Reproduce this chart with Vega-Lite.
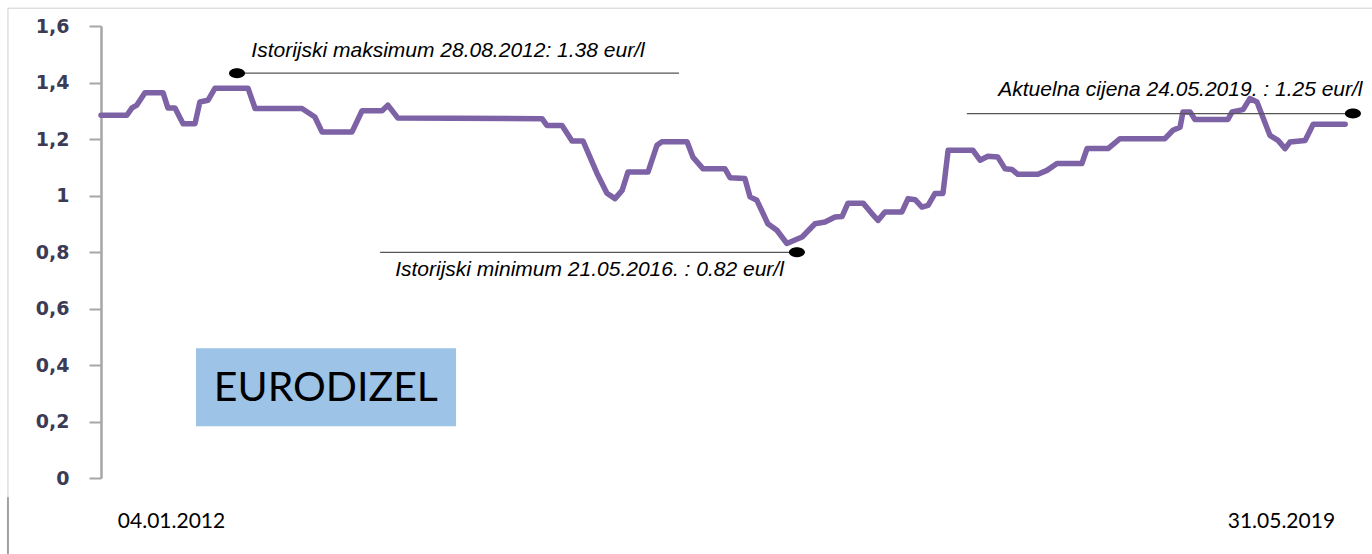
{
  "$schema": "https://vega.github.io/schema/vega-lite/v6.json",
  "width": 1260,
  "height": 452,
  "autosize": {"type": "none"},
  "padding": {"left": 101, "top": 26, "right": 11, "bottom": 76},
  "background": "white",
  "config": {"view": {"stroke": null}},
  "datasets": {
    "price": [
      {"week": 0, "eur": 1.284}, {"week": 8, "eur": 1.284}, {"week": 9.6, "eur": 1.31}, {"week": 11.1, "eur": 1.32},
      {"week": 13.6, "eur": 1.364}, {"week": 19.2, "eur": 1.364}, {"week": 20.7, "eur": 1.31}, {"week": 22.9, "eur": 1.31},
      {"week": 25.4, "eur": 1.254}, {"week": 29.1, "eur": 1.254}, {"week": 30.6, "eur": 1.331}, {"week": 33.1, "eur": 1.337},
      {"week": 35.3, "eur": 1.38}, {"week": 45.5, "eur": 1.38}, {"week": 47.7, "eur": 1.308}, {"week": 62.2, "eur": 1.308},
      {"week": 66.2, "eur": 1.278}, {"week": 68.4, "eur": 1.225}, {"week": 77.7, "eur": 1.225}, {"week": 80.8, "eur": 1.3},
      {"week": 87.0, "eur": 1.3}, {"week": 88.8, "eur": 1.32}, {"week": 91.9, "eur": 1.274}, {"week": 136.5, "eur": 1.272},
      {"week": 138.0, "eur": 1.248}, {"week": 142.7, "eur": 1.248}, {"week": 145.8, "eur": 1.193}, {"week": 149.2, "eur": 1.193},
      {"week": 153.5, "eur": 1.079}, {"week": 156.6, "eur": 1.008}, {"week": 159.1, "eur": 0.989}, {"week": 161.3, "eur": 1.018},
      {"week": 163.1, "eur": 1.083}, {"week": 169.3, "eur": 1.083}, {"week": 172.1, "eur": 1.178}, {"week": 173.6, "eur": 1.19},
      {"week": 181.4, "eur": 1.19}, {"week": 183.2, "eur": 1.136}, {"week": 186.3, "eur": 1.095}, {"week": 193.1, "eur": 1.095},
      {"week": 194.7, "eur": 1.063}, {"week": 199.3, "eur": 1.06}, {"week": 200.9, "eur": 0.995}, {"week": 203.0, "eur": 0.983},
      {"week": 206.4, "eur": 0.9}, {"week": 209.2, "eur": 0.877}, {"week": 212.3, "eur": 0.83}, {"week": 217.0, "eur": 0.853},
      {"week": 221.0, "eur": 0.9}, {"week": 224.1, "eur": 0.906}, {"week": 227.2, "eur": 0.924}, {"week": 229.4, "eur": 0.926},
      {"week": 231.2, "eur": 0.973}, {"week": 235.9, "eur": 0.973}, {"week": 238.6, "eur": 0.936}, {"week": 240.5, "eur": 0.912},
      {"week": 242.7, "eur": 0.942}, {"week": 247.9, "eur": 0.942}, {"week": 249.8, "eur": 0.989}, {"week": 252.0, "eur": 0.985},
      {"week": 254.1, "eur": 0.959}, {"week": 256.0, "eur": 0.965}, {"week": 258.1, "eur": 1.007}, {"week": 260.6, "eur": 1.007},
      {"week": 262.2, "eur": 1.16}, {"week": 269.9, "eur": 1.16}, {"week": 272.1, "eur": 1.125}, {"week": 274.5, "eur": 1.139},
      {"week": 277.6, "eur": 1.136}, {"week": 279.8, "eur": 1.095}, {"week": 282.0, "eur": 1.092}, {"week": 283.8, "eur": 1.075},
      {"week": 290.0, "eur": 1.075}, {"week": 292.8, "eur": 1.089}, {"week": 295.9, "eur": 1.113}, {"week": 303.6, "eur": 1.113},
      {"week": 305.2, "eur": 1.166}, {"week": 311.7, "eur": 1.166}, {"week": 315.4, "eur": 1.201}, {"week": 329.3, "eur": 1.201},
      {"week": 331.8, "eur": 1.231}, {"week": 334.0, "eur": 1.242}, {"week": 334.9, "eur": 1.296}, {"week": 337.1, "eur": 1.296},
      {"week": 338.6, "eur": 1.269}, {"week": 348.8, "eur": 1.269}, {"week": 350.1, "eur": 1.296}, {"week": 353.5, "eur": 1.304},
      {"week": 355.6, "eur": 1.343}, {"week": 357.8, "eur": 1.331}, {"week": 361.8, "eur": 1.213}, {"week": 364.3, "eur": 1.195},
      {"week": 366.5, "eur": 1.166}, {"week": 368.0, "eur": 1.189}, {"week": 372.7, "eur": 1.195}, {"week": 375.2, "eur": 1.252},
      {"week": 385.1, "eur": 1.252}
    ],
    "notes": [
      {"week": 42.1, "week2": 178.9, "eur": 1.433, "labelWeek": 107.4, "labelEur": 1.513, "label": "Istorijski maksimum 28.08.2012: 1.38 eur/l"},
      {"week": 215.4, "week2": 86.4, "eur": 0.799, "labelWeek": 151.2, "labelEur": 0.735, "label": "Istorijski minimum 21.05.2016. : 0.82 eur/l"},
      {"week": 387.5, "week2": 268.0, "eur": 1.29, "labelWeek": 334.1, "labelEur": 1.373, "label": "Aktuelna cijena 24.05.2019. : 1.25 eur/l"}
    ],
    "box": [
      {"week": 29.4, "week2": 109.9, "eur": 0.459, "eur2": 0.183, "midWeek": 69.6, "midEur": 0.314, "title": "EURODIZEL"}
    ],
    "frame": [
      {"week": -28.8, "week2": 393.4, "eur": 1.663, "eur2": 1.663, "part": "border"},
      {"week": -28.8, "week2": -28.8, "eur": 1.663, "eur2": -0.068, "part": "border"},
      {"week": -28.8, "week2": -28.8, "eur": -0.068, "eur2": -0.27, "part": "stub"}
    ]
  },
  "layer": [
    {
      "data": {"name": "frame"},
      "mark": {"type": "rule", "clip": false},
      "encoding": {
        "x": {
          "field": "week", "type": "quantitative", "scale": {"domain": [0, 390], "nice": false, "zero": false},
          "axis": {
            "values": [21.67, 365.2],
            "labelExpr": "datum.value < 100 ? '04.01.2012' : '31.05.2019'",
            "domain": false, "ticks": false, "grid": false, "title": null,
            "labelFont": "Lato", "labelFontSize": 21, "labelColor": "#000000",
            "labelBaseline": "middle", "labelPadding": 43, "labelAlign": "center", "labelFlush": false, "labelOverlap": false
          }
        },
        "x2": {"field": "week2"},
        "y": {
          "field": "eur", "type": "quantitative", "scale": {"domain": [0, 1.6], "nice": false},
          "axis": {
            "values": [0, 0.2, 0.4, 0.6, 0.8, 1, 1.2, 1.4, 1.6],
            "labelExpr": "replace(format(datum.value, '~g'), '.', ',')",
            "grid": false, "title": null,
            "domainColor": "#a6a6a6", "domainWidth": 2.5,
            "tickColor": "#a6a6a6", "tickWidth": 2, "tickSize": 12,
            "labelFont": "DejaVu Sans", "labelFontWeight": "bold", "labelFontSize": 19, "labelColor": "#3b3b55",
            "labelPadding": 20, "labelFlush": false
          }
        },
        "y2": {"field": "eur2"},
        "color": {"field": "part", "type": "nominal", "scale": {"domain": ["border", "stub"], "range": ["#cfcfcf", "#a0a0a0"]}, "legend": null},
        "strokeWidth": {"field": "part", "type": "nominal", "scale": {"domain": ["border", "stub"], "range": [1, 2]}, "legend": null}
      }
    },
    {
      "data": {"name": "box"},
      "mark": {"type": "rect", "fill": "#9dc3e6", "clip": false},
      "encoding": {
        "x": {"field": "week", "type": "quantitative"},
        "x2": {"field": "week2"},
        "y": {"field": "eur", "type": "quantitative"},
        "y2": {"field": "eur2"}
      }
    },
    {
      "data": {"name": "box"},
      "mark": {"type": "text", "font": "Lato", "fontSize": 41, "color": "#000000", "align": "center", "baseline": "middle"},
      "encoding": {
        "x": {"field": "midWeek", "type": "quantitative"},
        "y": {"field": "midEur", "type": "quantitative"},
        "text": {"field": "title"}
      }
    },
    {
      "data": {"name": "price"},
      "mark": {"type": "line", "color": "#7e62a6", "strokeWidth": 5.5, "strokeJoin": "round", "strokeCap": "round"},
      "encoding": {
        "x": {"field": "week", "type": "quantitative"},
        "y": {"field": "eur", "type": "quantitative"}
      }
    },
    {
      "data": {"name": "notes"},
      "mark": {"type": "rule", "color": "#555555", "strokeWidth": 1.3, "clip": false},
      "encoding": {
        "x": {"field": "week", "type": "quantitative"},
        "x2": {"field": "week2"},
        "y": {"field": "eur", "type": "quantitative"}
      }
    },
    {
      "data": {"name": "notes"},
      "mark": {"type": "point", "filled": true, "color": "#000000", "opacity": 1, "size": 256, "shape": "M -1,0 A 1,0.62 0 1,1 1,0 A 1,0.62 0 1,1 -1,0 Z", "clip": false},
      "encoding": {
        "x": {"field": "week", "type": "quantitative"},
        "y": {"field": "eur", "type": "quantitative"}
      }
    },
    {
      "data": {"name": "notes"},
      "mark": {"type": "text", "font": "Liberation Sans", "fontStyle": "italic", "fontSize": 21, "color": "#000000", "align": "center", "baseline": "middle", "clip": false},
      "encoding": {
        "x": {"field": "labelWeek", "type": "quantitative"},
        "y": {"field": "labelEur", "type": "quantitative"},
        "text": {"field": "label"}
      }
    }
  ]
}
